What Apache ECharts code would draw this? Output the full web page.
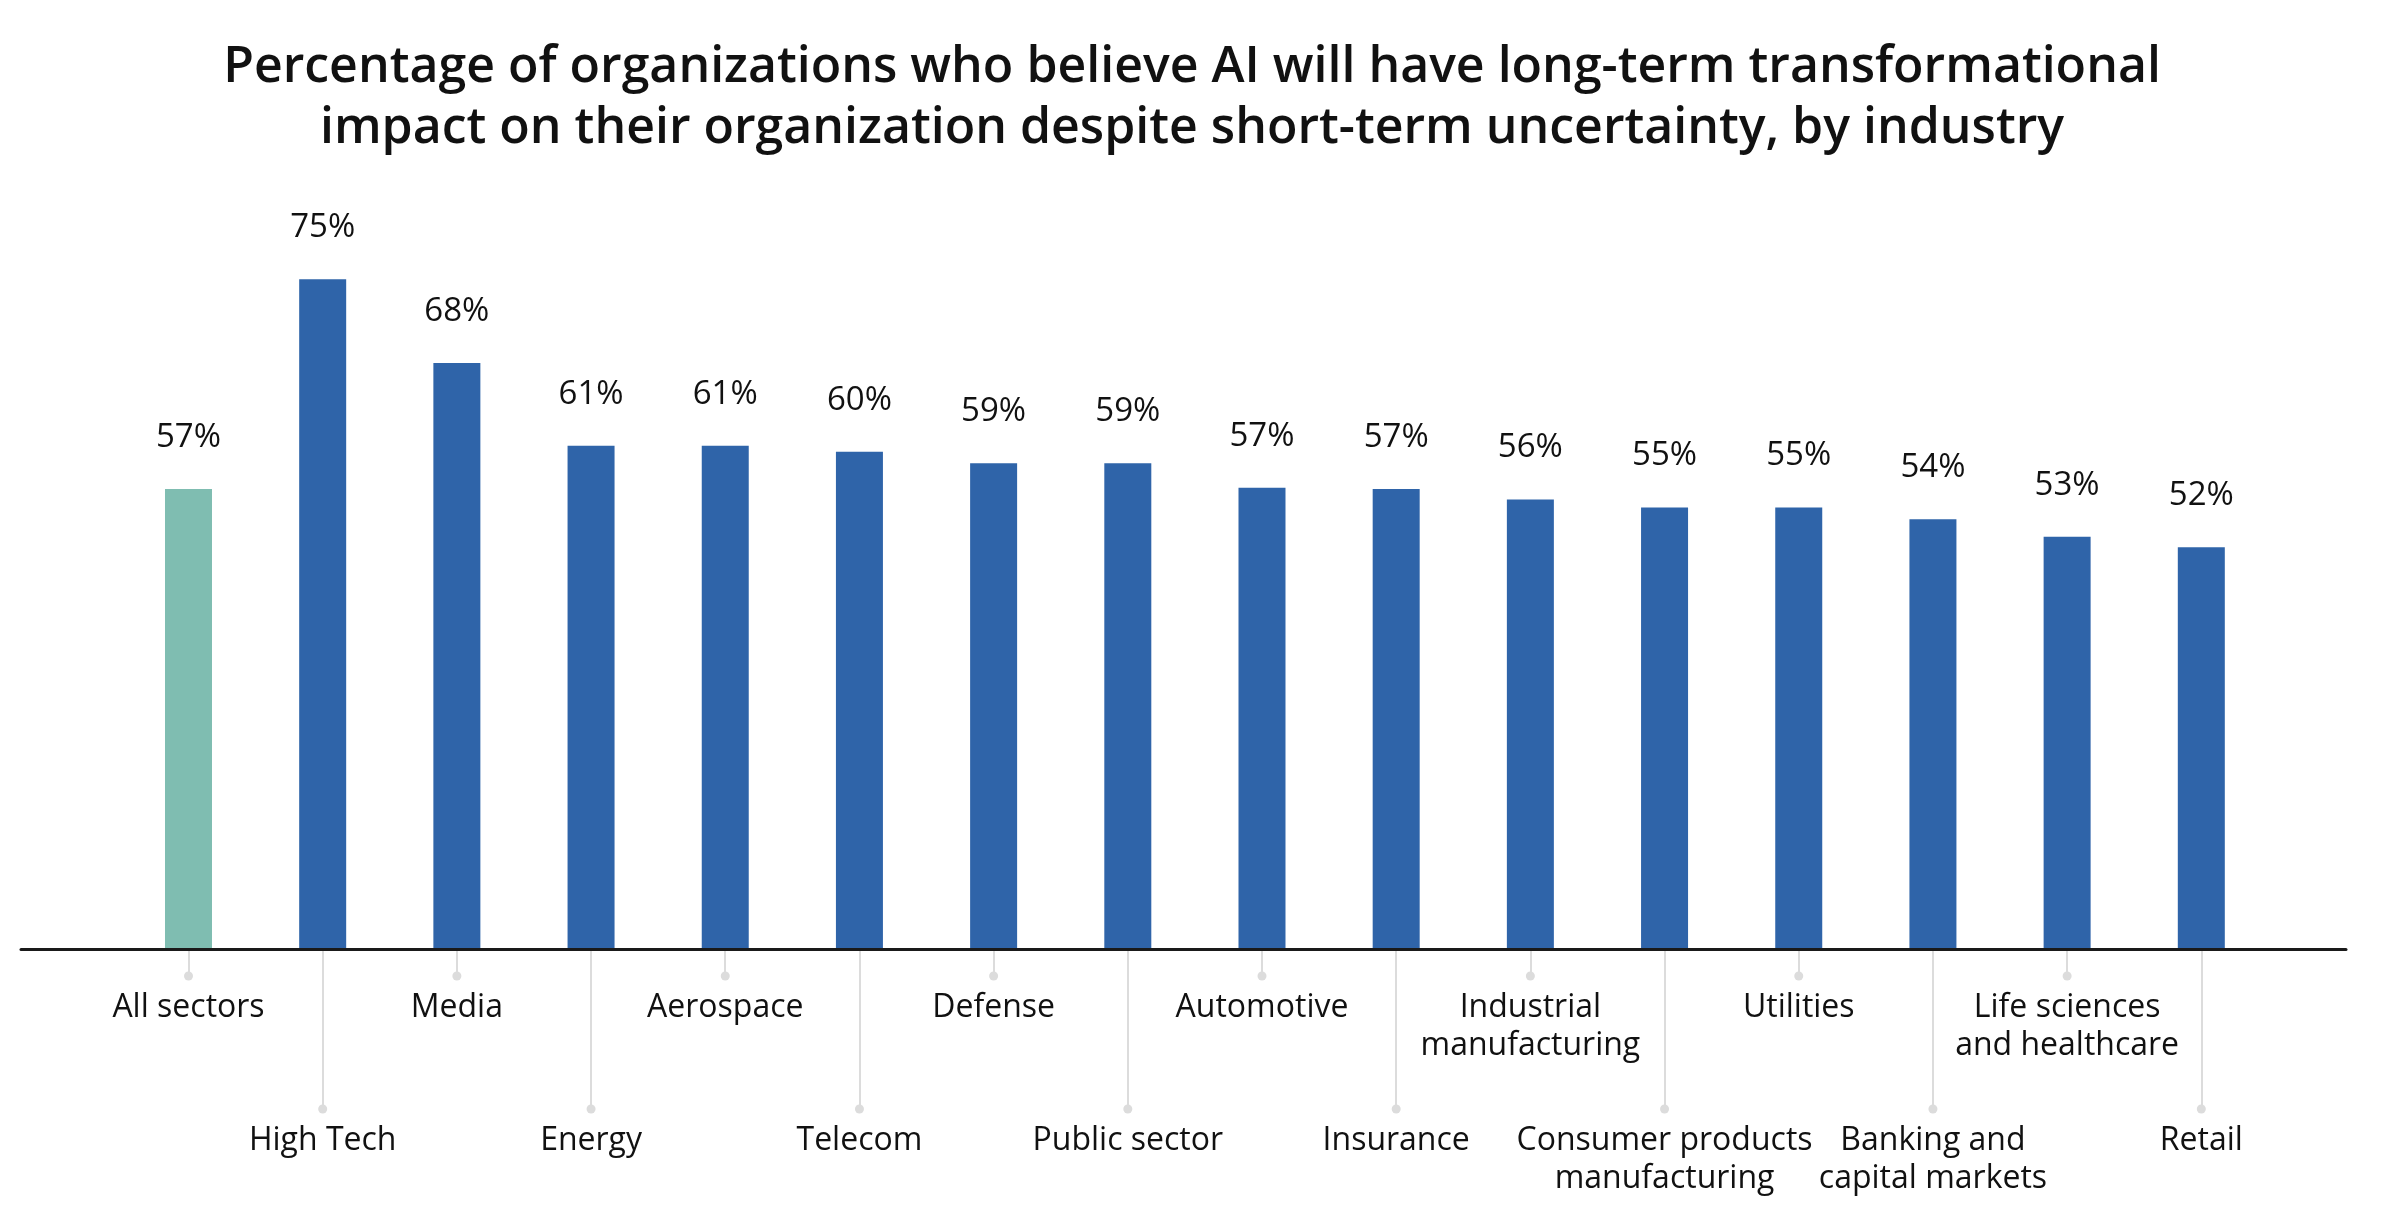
<!DOCTYPE html>
<html>
<head>
<meta charset="utf-8">
<script src="https://cdn.jsdelivr.net/npm/echarts@6/dist/echarts.min.js"></script>
<style>
  html, body { margin: 0; padding: 0; background: #fff; }
  #main { width: 2384px; height: 1232px; }
</style>
</head>
<body>
<div id="main"></div>
<script>
// industries, left to right
var categories = [
  'All sectors', 'High Tech', 'Media', 'Energy', 'Aerospace', 'Telecom',
  'Defense', 'Public sector', 'Automotive', 'Insurance',
  'Industrial\nmanufacturing', 'Consumer products\nmanufacturing', 'Utilities',
  'Banking and\ncapital markets', 'Life sciences\nand healthcare', 'Retail'
];
// share of organizations (%)
var values = [57.0, 75.0, 67.8, 60.7, 60.7, 60.2, 59.2, 59.2, 57.1, 57.0, 56.1, 55.4, 55.4, 54.4, 52.9, 52.0];

var BLUE = '#2F64A9';
var GREEN = '#7FBDB1';
var TICK = '#dcdcdc';

var barData = [];
for (var i = 0; i < values.length; i++) {
  barData.push({
    value: values[i],
    itemStyle: { color: i === 0 ? GREEN : BLUE }
  });
}

var labelFmt = function (val) {
  var lines = val.split('\n');
  var out = '{dot| }';
  for (var k = 0; k < lines.length; k++) out += '\n{txt|' + lines[k] + '}';
  return out;
};
var richStyle = {
  dot: { width: 9, height: 9, borderRadius: 5, backgroundColor: TICK, lineHeight: 26 },
  txt: { fontFamily: 'Open Sans', fontSize: 32, color: '#111', lineHeight: 38 }
};

// two overlapping category axes: even ticks short, odd ticks long
var tickAxis = function (even) {
  return {
    type: 'category',
    gridIndex: 0,
    position: 'bottom',
    data: categories,
    boundaryGap: true,
    axisLine: { show: false },
    axisTick: {
      show: true,
      alignWithLabel: true,
      length: even ? 27 : 158,
      lineStyle: { color: TICK, width: 2 },
      interval: function (idx) { return even ? idx % 2 === 0 : idx % 2 === 1; }
    },
    axisLabel: {
      interval: function (idx) { return even ? idx % 2 === 0 : idx % 2 === 1; },
      margin: even ? 14 : 147,
      formatter: labelFmt,
      rich: richStyle
    },
    splitLine: { show: false }
  };
};

var option = {
  backgroundColor: '#fff',
  animation: false,
  title: {
    text: 'Percentage of organizations who believe AI will have long-term transformational\nimpact on their organization despite short-term uncertainty, by industry',
    left: 'center',
    top: 32,
    textStyle: {
      fontFamily: 'Open Sans',
      fontWeight: 600,
      fontSize: 50,
      lineHeight: 61,
      color: '#111'
    }
  },
  grid: [
    { left: 121.4, right: 115.6, top: 221, bottom: 283 },
    { left: 21, right: 38, top: 221, bottom: 283 }
  ],
  xAxis: [
    tickAxis(true),
    tickAxis(false),
    {
      type: 'value',
      gridIndex: 1,
      min: 0,
      max: 1,
      z: 5,
      axisLine: { show: true, onZero: false, lineStyle: { color: '#1a1a1a', width: 3 } },
      axisTick: { show: false },
      axisLabel: { show: false },
      splitLine: { show: false }
    }
  ],
  yAxis: [
    { type: 'value', gridIndex: 0, min: 17.5, max: 80, show: false, splitLine: { show: false } },
    { type: 'value', gridIndex: 1, min: 0, max: 1, show: false, splitLine: { show: false } }
  ],
  series: [{
    type: 'bar',
    xAxisIndex: 0,
    yAxisIndex: 0,
    barWidth: 47,
    data: barData,
    label: {
      show: true,
      position: 'top',
      distance: 35,
      fontFamily: 'Open Sans',
      fontSize: 33,
      color: '#111',
      formatter: function (p) { return Math.round(p.value) + '%'; }
    }
  }]
};

echarts.init(document.getElementById('main')).setOption(option);
</script>
</body>
</html>
